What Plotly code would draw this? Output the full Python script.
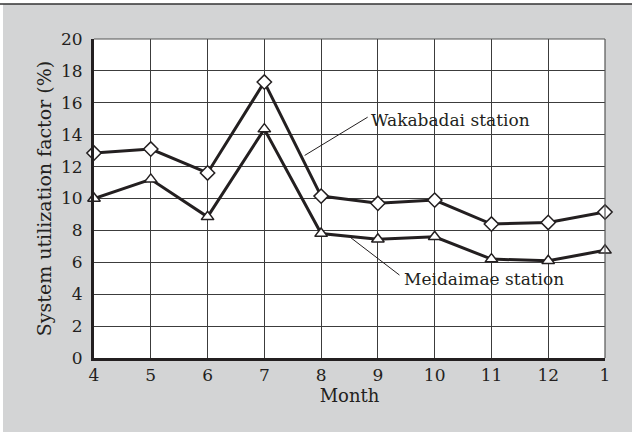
import plotly.graph_objects as go

months = ["4", "5", "6", "7", "8", "9", "10", "11", "12", "1"]
wakabadai = [12.85, 13.1, 11.6, 17.3, 10.15, 9.7, 9.9, 8.4, 8.5, 9.15]
meidaimae = [10.0, 11.2, 8.85, 14.35, 7.8, 7.45, 7.6, 6.2, 6.1, 6.75]
y_ticks = [0, 2, 4, 6, 8, 10, 12, 14, 16, 18, 20]

W, H = 632, 432
ML, MR, MT, MB = 94, 27, 39, 74
PW, PH = W - ML - MR, H - MT - MB

def px_x(p):
    return (p - ML) / PW

def px_y(p):
    return (H - MB - p) / PH

xs = list(range(len(months)))
LINE = "#231f20"
FONT = "DejaVu Serif, Liberation Serif, serif"

fig = go.Figure()
fig.add_trace(go.Scatter(
    x=xs, y=wakabadai, mode="lines+markers", name="Wakabadai station",
    line=dict(color=LINE, width=3),
    marker=dict(symbol="diamond", size=11, color="white", line=dict(color=LINE, width=1.5)),
    cliponaxis=False,
))
fig.add_trace(go.Scatter(
    x=xs, y=meidaimae, mode="lines+markers", name="Meidaimae station",
    line=dict(color=LINE, width=3),
    marker=dict(symbol="triangle-up", size=11, color="white", line=dict(color=LINE, width=1.5)),
    cliponaxis=False,
))

shapes = [
    dict(type="rect", xref="paper", yref="paper", x0=px_x(0), x1=px_x(W), y0=px_y(4), y1=px_y(0),
         fillcolor="white", line=dict(width=0), layer="below"),
    dict(type="rect", xref="paper", yref="paper", x0=px_x(0), x1=px_x(3), y0=px_y(H), y1=px_y(0),
         fillcolor="white", line=dict(width=0), layer="below"),
    dict(type="line", xref="paper", yref="paper", x0=px_x(0), x1=px_x(W), y0=px_y(4), y1=px_y(4),
         line=dict(color="#333333", width=1.5)),
    dict(type="line", xref="paper", yref="paper", x0=0, x1=1, y0=1, y1=1,
         line=dict(color="#555555", width=1.2)),
    dict(type="line", xref="paper", yref="paper", x0=1, x1=1, y0=0, y1=1,
         line=dict(color="#555555", width=1.2)),
    dict(type="line", xref="x", yref="y", x0=3.71, y0=12.7, x1=4.82, y1=15.1,
         line=dict(color=LINE, width=1)),
    dict(type="line", xref="x", yref="y", x0=4.52, y0=7.55, x1=5.38, y1=5.2,
         line=dict(color=LINE, width=1)),
]

annotations = [
    dict(x=4.84, y=14.95, xref="x", yref="y", text="Wakabadai station", showarrow=False,
         xanchor="left", yanchor="middle", font=dict(family=FONT, size=17, color="#231f20")),
    dict(x=5.42, y=4.95, xref="x", yref="y", text="Meidaimae station", showarrow=False,
         xanchor="left", yanchor="middle", font=dict(family=FONT, size=17, color="#231f20")),
]

fig.update_layout(
    width=W, height=H,
    margin=dict(l=ML, r=MR, t=MT, b=MB, pad=0),
    paper_bgcolor="#d3d4d5",
    plot_bgcolor="white",
    showlegend=False,
    shapes=shapes,
    annotations=annotations,
    font=dict(family=FONT, size=17, color="#231f20"),
)
fig.update_xaxes(
    range=[0, 9], tickmode="array", tickvals=xs, ticktext=months,
    showgrid=True, gridcolor="#3c3c3c", gridwidth=1,
    showline=True, linecolor=LINE, linewidth=3,
    ticks="", ticklen=0, zeroline=False, ticklabelstandoff=0,
    tickfont=dict(family=FONT, size=17),
    title=dict(text="Month", font=dict(family=FONT, size=18), standoff=2),
)
fig.update_yaxes(
    range=[0, 20], tickmode="array", tickvals=y_ticks,
    showgrid=True, gridcolor="#3c3c3c", gridwidth=1,
    showline=True, linecolor=LINE, linewidth=3,
    ticks="", ticklen=0, zeroline=False, ticklabelstandoff=5,
    tickfont=dict(family=FONT, size=17),
    title=dict(text="System utilization factor (%)", font=dict(family=FONT, size=19), standoff=5),
)

fig.write_html("out.html", config={"displayModeBar": False},
               post_script="document.body.style.margin='0';")
